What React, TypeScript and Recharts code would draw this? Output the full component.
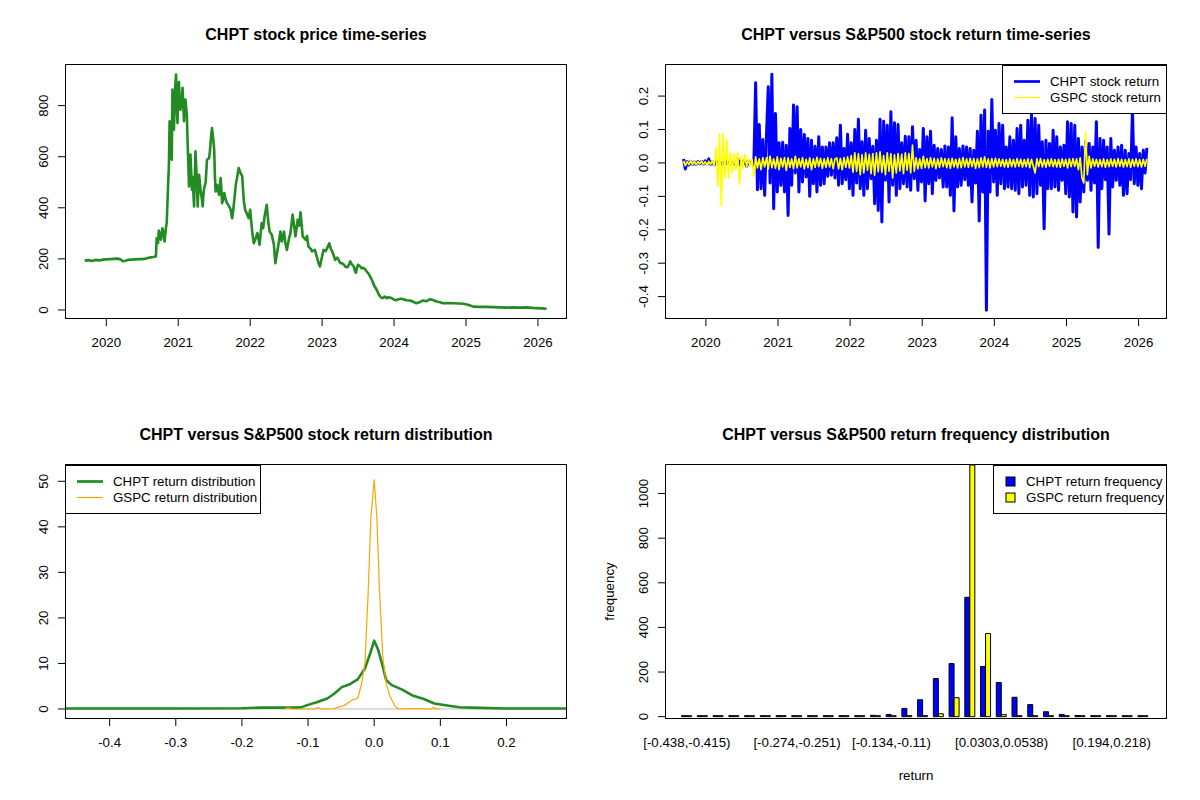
import React from "react";
import { LineChart, Line, XAxis, YAxis, BarChart, Bar, ReferenceLine, Legend } from "recharts";

const FONT = '"Liberation Sans", Arial, Helvetica, sans-serif';
const AXIS_FONT = 13.3;
const TITLE_FONT = 16;

// ---------- Panel 1: CHPT price ----------
const PRICE_T = [
  2019.70, 2019.75, 2019.80, 2019.85, 2019.90, 2019.95, 2020.00, 2020.05, 2020.10, 2020.15,
  2020.20, 2020.23, 2020.27, 2020.30, 2020.35, 2020.40, 2020.45, 2020.50, 2020.55, 2020.60,
  2020.65, 2020.69, 2020.70, 2020.72, 2020.73, 2020.75, 2020.76, 2020.78, 2020.80, 2020.81,
  2020.83, 2020.84, 2020.86, 2020.87, 2020.88, 2020.90, 2020.91, 2020.92, 2020.93, 2020.94,
  2020.96, 2020.97, 2020.98, 2020.99, 2021.00, 2021.01, 2021.02, 2021.03, 2021.05, 2021.06,
  2021.08, 2021.09, 2021.10, 2021.12, 2021.13, 2021.15, 2021.16, 2021.17, 2021.19, 2021.20,
  2021.22, 2021.23, 2021.24, 2021.26, 2021.27, 2021.28, 2021.29, 2021.31, 2021.33, 2021.34,
  2021.35, 2021.36, 2021.38, 2021.39, 2021.40, 2021.43, 2021.44, 2021.45, 2021.46, 2021.47,
  2021.49, 2021.50, 2021.51, 2021.52, 2021.54, 2021.55, 2021.57, 2021.58, 2021.59, 2021.60,
  2021.61, 2021.63, 2021.64, 2021.66, 2021.68, 2021.70, 2021.73, 2021.74, 2021.75, 2021.77,
  2021.80, 2021.82, 2021.84, 2021.86, 2021.89, 2021.91, 2021.93, 2021.95, 2021.98, 2022.00,
  2022.03, 2022.05, 2022.07, 2022.10, 2022.13, 2022.16, 2022.18, 2022.20, 2022.23, 2022.25,
  2022.27, 2022.30, 2022.33, 2022.35, 2022.37, 2022.40, 2022.42, 2022.44, 2022.47, 2022.49,
  2022.51, 2022.54, 2022.56, 2022.59, 2022.61, 2022.63, 2022.66, 2022.68, 2022.70, 2022.72,
  2022.73, 2022.77, 2022.79, 2022.81, 2022.84, 2022.86, 2022.90, 2022.93, 2022.95, 2022.97,
  2023.00, 2023.02, 2023.05, 2023.07, 2023.10, 2023.12, 2023.14, 2023.16, 2023.18, 2023.21,
  2023.23, 2023.25, 2023.27, 2023.30, 2023.32, 2023.35, 2023.37, 2023.39, 2023.41, 2023.44,
  2023.46, 2023.47, 2023.49, 2023.50, 2023.53, 2023.55, 2023.57, 2023.60, 2023.62, 2023.64,
  2023.67, 2023.69, 2023.71, 2023.73, 2023.76, 2023.78, 2023.80, 2023.83, 2023.85, 2023.87,
  2023.90, 2023.92, 2023.95, 2023.97, 2024.00, 2024.03, 2024.06, 2024.10, 2024.13, 2024.17,
  2024.22, 2024.27, 2024.31, 2024.35, 2024.40, 2024.45, 2024.50, 2024.55, 2024.59, 2024.64,
  2024.68, 2024.75, 2024.82, 2024.90, 2024.96, 2025.03, 2025.10, 2025.18, 2025.28, 2025.38,
  2025.47, 2025.56, 2025.65, 2025.75, 2025.84, 2025.92, 2025.98, 2026.05, 2026.12,
];
const PRICE = [
  193, 195, 192, 196, 194, 197, 198, 199, 200, 201,
  198, 191, 193, 196, 197, 198, 199, 199, 201, 205,
  207, 209, 281, 262, 311, 285, 275, 320, 290, 268,
  325, 340, 497, 560, 739, 610, 588, 863, 760, 706,
  880, 922, 800, 732, 860, 892, 820, 784, 824, 870,
  739, 800, 824, 760, 660, 484, 560, 608, 471, 520,
  405, 520, 621, 500, 405, 470, 529, 471, 430, 405,
  450, 477, 497, 540, 588, 595, 620, 654, 690, 712,
  660, 627, 520, 464, 490, 470, 451, 490, 516, 470,
  418, 440, 458, 431, 418, 410, 392, 370, 359, 405,
  490, 520, 556, 540, 523, 431, 392, 380, 359, 392,
  301, 261, 275, 301, 255, 340, 320, 366, 412, 350,
  307, 294, 255, 183, 216, 268, 307, 268, 307, 260,
  235, 280, 301, 373, 330, 288, 353, 330, 382, 320,
  288, 275, 290, 248, 240, 229, 235, 205, 183, 170,
  210, 235, 230, 242, 261, 240, 229, 215, 196, 205,
  196, 185, 183, 178, 170, 167, 175, 190, 180, 170,
  150, 146, 170, 177, 170, 163, 165, 159, 150, 144,
  130, 118, 105, 92, 78, 65, 55, 46, 48, 52,
  46, 50, 48, 46, 40, 38, 42, 44, 42, 38,
  37, 32, 26, 30, 37, 34, 42, 38, 33, 30,
  26, 27, 26, 25, 24, 20, 13, 12, 12, 11,
  10, 9, 10, 9, 10, 8, 7, 6, 5,
];

// ---------- Panel 2: returns (sampled every RET_STEP years from RET_START) ----------
const RET_START = 2019.69;
const RET_STEP = 0.025;
const CHPT_RET = [
  0.012, -0.018, 0.004, -0.006, 0.005, -0.004, 0.003, -0.005, 0.004, -0.003,
  0.005, -0.004, 0.006, -0.003, 0.012, -0.004, 0.003, -0.006, 0.004, -0.003,
  0.005, -0.004, 0.003, -0.005, 0.004, -0.003, 0.006, -0.004, 0.003, -0.006,
  0.012, -0.005, 0.006, -0.004, 0.008, -0.01, 0.005, -0.003, 0.004, -0.007,
  0.24, -0.08, 0.115, -0.077, 0.07, -0.097, 0.08, 0.228, -0.06, 0.265,
  -0.137, 0.148, -0.087, 0.06, -0.067, 0.062, -0.087, 0.053, -0.157, 0.103,
  -0.067, 0.173, -0.03, 0.168, -0.087, 0.1, -0.057, 0.085, -0.042, 0.073,
  -0.1, 0.068, -0.062, 0.05, -0.087, 0.078, -0.067, 0.048, -0.062, 0.048,
  -0.04, 0.06, -0.037, 0.06, -0.045,
  0.075, -0.067, 0.113, -0.062, 0.043, -0.05, 0.086, -0.077, 0.06, -0.097,
  0.1, -0.06, 0.131, -0.077, 0.063, -0.097, 0.098, -0.077, 0.073, -0.047,
  0.05, -0.122, 0.068, -0.142, 0.131, -0.177, 0.125, -0.052, 0.113, -0.117,
  0.153, -0.067, 0.12, -0.097, 0.115, -0.077, 0.06, -0.062, 0.08, -0.072,
  0.078, -0.082, 0.108, -0.047, 0.068, -0.082, 0.04, -0.057, 0.103, -0.114,
  0.078, -0.062, 0.095, -0.092, 0.053, -0.052, 0.043, -0.045, 0.04, -0.072,
  0.051, -0.072, 0.048, -0.097, 0.135, -0.144, 0.078, -0.072, 0.043, -0.067,
  0.051, -0.05, 0.048, -0.067, 0.043, -0.117, 0.038, -0.06, 0.095, -0.174,
  0.143, -0.087, 0.158, -0.441, 0.095, -0.087, 0.19, -0.057, 0.098, -0.097,
  0.118, -0.062, 0.113, -0.077,
  0.048, -0.072, 0.078, -0.077, 0.068, -0.082, 0.103, -0.092, 0.113, -0.072,
  0.068, -0.067, 0.128, -0.097, 0.148, -0.102, 0.133, -0.092, 0.113, -0.067,
  0.063, -0.197, 0.068, -0.077, 0.058, -0.077, 0.098, -0.072, 0.078, -0.082,
  0.048, -0.052, 0.053, -0.092, 0.123, -0.102, 0.118, -0.147, 0.113, -0.162,
  0.073, -0.117, 0.048, -0.087, 0.063, -0.052, 0.058, -0.082, 0.048, -0.06,
  0.123, -0.253, 0.073, -0.077, 0.068, -0.05, 0.048, -0.213, 0.073, -0.072,
  0.038, -0.052, 0.048, -0.067, 0.053, -0.097, 0.038, -0.092, 0.028, -0.05,
  0.16, -0.062, 0.048, -0.067, 0.028, -0.077, 0.038, -0.03, 0.045,
];
const GSPC_RET = [
  0.006, -0.008, 0.004, -0.005, 0.007, -0.004, 0.005, -0.006, 0.004, -0.003,
  0.006, -0.005, 0.004, -0.006, 0.005, -0.004, 0.006, -0.008,
  0.045, -0.07, 0.088, -0.128, 0.088, -0.045, 0.068, -0.045, 0.03, -0.03,
  0.028, -0.02, 0.03, -0.062, 0.02, -0.015, 0.025, -0.012, 0.012, -0.01, 0.01, -0.04,
  0.018, -0.015, 0.012, -0.02, 0.016, -0.012, 0.015, -0.018, 0.02, -0.014,
  0.012, -0.016, 0.018, -0.02, 0.014, -0.012, 0.016, -0.022, 0.015, -0.013,
  0.012, -0.017, 0.02, -0.015, 0.013, -0.012, 0.016, -0.018, 0.011, -0.014,
  0.015, -0.02, 0.012, -0.013, 0.017, -0.011, 0.014, -0.016, 0.012, -0.013,
  0.015, -0.012, 0.013, -0.017, 0.012,
  0.015, -0.018, 0.014, -0.02, 0.016, -0.013, 0.018, -0.015,
  0.022, -0.028, 0.03, -0.025, 0.027, -0.035, 0.024, -0.03, 0.03, -0.022,
  0.026, -0.032, 0.028, -0.037, 0.03, -0.026, 0.033, -0.028, 0.022, -0.035,
  0.03, -0.025, 0.027, -0.045, 0.024, -0.03, 0.028, -0.024, 0.026, -0.032,
  0.03, -0.022, 0.028, -0.03, 0.053, -0.025,
  0.015, -0.018, 0.012, -0.016, 0.02, -0.014, 0.013, -0.015, 0.016, -0.012,
  0.014, -0.017, 0.012, -0.013, 0.015, -0.011, 0.013, -0.014, 0.012, -0.016,
  0.014, -0.012, 0.011, -0.015, 0.013, -0.014, 0.016, -0.012, 0.012, -0.013,
  0.014, -0.011, 0.013, -0.016, 0.012, -0.014, 0.015, -0.012, 0.018, -0.013,
  0.012, -0.015, 0.013, -0.012, 0.014, -0.011,
  0.012, -0.01, 0.011, -0.012, 0.01, -0.013, 0.012, -0.011, 0.01, -0.012,
  0.013, -0.01, 0.011, -0.012, 0.01, -0.011, 0.012, -0.014, 0.011, -0.01,
  -0.03, 0.012, -0.011, 0.013, -0.012, 0.01, -0.013, 0.011, -0.01, 0.012,
  -0.011, 0.01, -0.012, 0.011, -0.013, 0.012, -0.01, 0.011, -0.015, 0.012,
  -0.011, 0.013, -0.01, 0.012, -0.02, 0.015,
  -0.045, -0.06, 0.093, -0.035, 0.02, -0.015,
  0.012, -0.01, 0.011, -0.012, 0.01, -0.011, 0.012, -0.013, 0.01, -0.011,
  0.012, -0.01, 0.011, -0.012, 0.013, -0.01, 0.011, -0.012, 0.01, -0.011,
  0.012, -0.013, 0.011, -0.01, 0.012, -0.011, 0.01, -0.012, 0.011, -0.01, 0.012,
];

// ---------- Panel 3: densities ----------
const CHPT_DENS_X = [
  -0.47, -0.3, -0.2, -0.173, -0.14, -0.12, -0.111, -0.1, -0.087, -0.071,
  -0.06, -0.049, -0.036, -0.025, -0.014, -0.006, 0, 0.006, 0.013, 0.018,
  0.026, 0.043, 0.059, 0.075, 0.091, 0.113, 0.129, 0.145, 0.161, 0.2, 0.3,
];
const CHPT_DENS_Y = [
  0.1, 0.12, 0.15, 0.3, 0.3, 0.3, 0.35, 0.9, 1.5, 2.3,
  3.4, 4.8, 5.5, 6.5, 8.9, 12.2, 15.0, 13.0, 9.3, 6.4,
  5.3, 4.2, 2.9, 2.2, 1.2, 0.7, 0.37, 0.3, 0.25, 0.12, 0.1,
];
const GSPC_DENS_X = [
  -0.135, -0.13, -0.125, -0.09, -0.085, -0.08, -0.06, -0.055, -0.05, -0.044,
  -0.039, -0.033, -0.025, -0.019, -0.014, -0.009, -0.005, 0, 0.004, 0.008,
  0.013, 0.018, 0.024, 0.032, 0.037, 0.05, 0.07, 0.085, 0.09, 0.095, 0.1,
];
const GSPC_DENS_Y = [
  0, 0.3, 0, 0, 0.3, 0, 0.1, 0.4, 0.5, 0.9,
  1.4, 2.0, 2.3, 5.6, 10, 26, 42, 50.4, 42, 26,
  11.5, 5.6, 2.7, 0.5, 0, 0.1, 0.1, 0, 0.3, 0, 0,
];

// ---------- Panel 4: histogram ----------
const BINS = [
  "[-0.438,-0.415)", "[-0.415,-0.391)", "[-0.391,-0.368)", "[-0.368,-0.344)", "[-0.344,-0.321)",
  "[-0.321,-0.298)", "[-0.298,-0.274)", "[-0.274,-0.251)", "[-0.251,-0.227)", "[-0.227,-0.204)",
  "[-0.204,-0.18)", "[-0.18,-0.157)", "[-0.157,-0.134)", "[-0.134,-0.11)", "[-0.11,-0.0868)",
  "[-0.0868,-0.0634)", "[-0.0634,-0.0399)", "[-0.0399,-0.0165)", "[-0.0165,0.00688)", "[0.00688,0.0303)",
  "[0.0303,0.0538)", "[0.0538,0.0772)", "[0.0772,0.101)", "[0.101,0.124)", "[0.124,0.147)",
  "[0.147,0.171)", "[0.171,0.194)", "[0.194,0.218)", "[0.218,0.241)", "[0.241,0.265]",
];
const CHPT_FREQ = [1, 0, 0, 0, 0, 0, 0, 1, 0, 1, 1, 4, 6, 10, 37, 76, 171, 238, 535, 225, 153, 87, 54, 22, 10, 5, 3, 1, 2, 2];
const GSPC_FREQ = [0, 0, 0, 0, 0, 0, 0, 0, 0, 0, 0, 0, 0, 1, 1, 4, 13, 85, 1128, 373, 9, 4, 3, 0, 0, 0, 0, 0, 0, 0];
const SHOWN_BINS = ["[-0.438,-0.415)", "[-0.274,-0.251)", "[-0.134,-0.11)", "[0.0303,0.0538)", "[0.194,0.218)"];

// ---------- Tick values / labels ----------
const YEAR_TICKS = [2020, 2021, 2022, 2023, 2024, 2025, 2026];
const YEAR_LABELS = ["2020", "2021", "2022", "2023", "2024", "2025", "2026"];
const PRICE_TICKS = [0, 200, 400, 600, 800];
const PRICE_LABELS = ["0", "200", "400", "600", "800"];
const RET_TICKS = [-0.4, -0.3, -0.2, -0.1, 0, 0.1, 0.2];
const RET_LABELS = ["-0.4", "-0.3", "-0.2", "-0.1", "0.0", "0.1", "0.2"];
const DENS_X_TICKS = [-0.4, -0.3, -0.2, -0.1, 0, 0.1, 0.2];
const DENS_X_LABELS = ["-0.4", "-0.3", "-0.2", "-0.1", "0.0", "0.1", "0.2"];
const DENS_Y_TICKS = [0, 10, 20, 30, 40, 50];
const DENS_Y_LABELS = ["0", "10", "20", "30", "40", "50"];
const FREQ_TICKS = [0, 200, 400, 600, 800, 1000];
const FREQ_LABELS = ["0", "200", "400", "600", "800", "1000"];

// ---------- tables ----------
const priceData = PRICE_T.map((t, i) => ({ t, price: PRICE[i] }));
const retData = CHPT_RET.map((v, i) => ({ t: RET_START + i * RET_STEP, chpt: v, gspc: GSPC_RET[i] }));
const chptDens = CHPT_DENS_X.map((x, i) => ({ x, y: CHPT_DENS_Y[i] }));
const gspcDens = GSPC_DENS_X.map((x, i) => ({ x, y: GSPC_DENS_Y[i] }));
const histData = BINS.map((bin, i) => ({ bin, chpt: CHPT_FREQ[i], gspc: GSPC_FREQ[i] }));

const labelFor = (ticks: number[], labels: string[], v: number) => {
  const i = ticks.findIndex((t) => Math.abs(t - v) < 1e-9);
  return i >= 0 ? labels[i] : String(v);
};

const makeYTick = (ticks: number[], labels: string[]) => (props: any) => {
  const { x, y, payload } = props;
  return (
    <text x={x} y={y} transform={`rotate(-90 ${x} ${y})`} textAnchor="middle"
      fontSize={AXIS_FONT} fontFamily={FONT} fill="#000">
      {labelFor(ticks, labels, payload.value)}
    </text>
  );
};

const makeXTick = (ticks: number[], labels: string[]) => (props: any) => {
  const { x, y, payload } = props;
  return (
    <text x={x} y={y} dy="0.71em" textAnchor="middle" fontSize={AXIS_FONT} fontFamily={FONT} fill="#000">
      {labelFor(ticks, labels, payload.value)}
    </text>
  );
};

const binTick = (props: any) => {
  const { x, y, payload } = props;
  if (!SHOWN_BINS.includes(payload.value)) return <g />;
  return (
    <text x={x} y={y} dy="0.71em" textAnchor="middle" fontSize={AXIS_FONT} fontFamily={FONT} fill="#000">
      {payload.value}
    </text>
  );
};

const xCommon = { stroke: "#000", axisLine: false, tickSize: 8, tickMargin: 12, interval: 0 as const, height: 30 };
const yCommon = { stroke: "#000", axisLine: false, tickSize: 8, tickMargin: 10, interval: 0 as const, width: 40 };
const MARGIN = { top: 65, right: 34, bottom: 52, left: 26 };

type Item = { label: string; color: string; width?: number; square?: boolean };

const LegendBox = ({ w, items, textX }: { w: number; items: Item[]; textX: number }) => (
  <svg width={w + 2} height={50} style={{ display: "block" }}>
    <rect x={0.5} y={0.5} width={w} height={48} fill="#fff" stroke="#000" strokeWidth={1} />
    {items.map((it, i) => {
      const cy = 16.5 + i * 16;
      return (
        <g key={it.label}>
          {it.square ? (
            <rect x={13} y={cy - 4.5} width={9} height={9} fill={it.color} stroke="#000" strokeWidth={1} />
          ) : (
            <line x1={12} x2={38} y1={cy} y2={cy} stroke={it.color} strokeWidth={it.width || 1} />
          )}
          <text x={textX} y={cy + 4.6} fontSize={AXIS_FONT} fontFamily={FONT} fill="#000">{it.label}</text>
        </g>
      );
    })}
  </svg>
);

const TR_LEGEND: Item[] = [
  { label: "CHPT stock return", color: "#0000FF", width: 2.7 },
  { label: "GSPC stock return", color: "#FFFF00", width: 1.3 },
];
const BL_LEGEND: Item[] = [
  { label: "CHPT return distribution", color: "#228B22", width: 2.7 },
  { label: "GSPC return distribution", color: "#FFA500", width: 1.2 },
];
const BR_LEGEND: Item[] = [
  { label: "CHPT return frequency", color: "#0000FF", square: true },
  { label: "GSPC return frequency", color: "#FFFF00", square: true },
];

const TITLES = [
  { text: "CHPT stock price time-series", x: 316, y: 40 },
  { text: "CHPT versus S&P500 stock return time-series", x: 916, y: 40 },
  { text: "CHPT versus S&P500 stock return distribution", x: 316, y: 440 },
  { text: "CHPT versus S&P500 return frequency distribution", x: 916, y: 440 },
];
const BOXES = [
  { x: 65.5, y: 64.5 },
  { x: 665.5, y: 64.5 },
  { x: 65.5, y: 464.5 },
  { x: 665.5, y: 464.5 },
];

export default function App() {
  return (
    <div style={{ position: "absolute", left: 0, top: 0, width: 1200, height: 800, background: "#fff", fontFamily: FONT }}>
      {/* Panel 1 */}
      <div style={{ position: "absolute", left: 0, top: 0 }}>
        <LineChart width={600} height={400} data={priceData} margin={MARGIN}>
          <XAxis type="number" dataKey="t" domain={[2019.44, 2026.39]} ticks={YEAR_TICKS} allowDataOverflow
            tick={makeXTick(YEAR_TICKS, YEAR_LABELS)} {...xCommon} />
          <YAxis type="number" domain={[-31.5, 959]} ticks={PRICE_TICKS} allowDataOverflow
            tick={makeYTick(PRICE_TICKS, PRICE_LABELS)} {...yCommon} />
          <Line type="linear" dataKey="price" stroke="#228B22" strokeWidth={2.6} dot={false}
            strokeLinejoin="round" isAnimationActive={false} />
        </LineChart>
      </div>

      {/* Panel 2 */}
      <div style={{ position: "absolute", left: 600, top: 0 }}>
        <LineChart width={600} height={400} data={retData} margin={MARGIN}>
          <XAxis type="number" dataKey="t" domain={[2019.447, 2026.38]} ticks={YEAR_TICKS} allowDataOverflow
            tick={makeXTick(YEAR_TICKS, YEAR_LABELS)} {...xCommon} />
          <YAxis type="number" domain={[-0.464, 0.293]} ticks={RET_TICKS} allowDataOverflow
            tick={makeYTick(RET_TICKS, RET_LABELS)} {...yCommon} />
          <Line type="linear" dataKey="chpt" name="CHPT stock return" stroke="#0000FF" strokeWidth={3}
            dot={false} strokeLinejoin="round" isAnimationActive={false} />
          <Line type="linear" dataKey="gspc" name="GSPC stock return" stroke="#FFFF00" strokeWidth={1.7}
            dot={false} strokeLinejoin="round" isAnimationActive={false} />
          <Legend layout="vertical" align="center" verticalAlign="middle"
            wrapperStyle={{ left: 402, top: 65, width: 166, height: 50 }}
            content={() => <LegendBox w={164} items={TR_LEGEND} textX={48} />} />
        </LineChart>
      </div>

      {/* Panel 3 */}
      <div style={{ position: "absolute", left: 0, top: 400 }}>
        <LineChart width={600} height={400} margin={MARGIN}>
          <XAxis type="number" dataKey="x" domain={[-0.466, 0.29]} ticks={DENS_X_TICKS} allowDataOverflow
            tick={makeXTick(DENS_X_TICKS, DENS_X_LABELS)} {...xCommon} />
          <YAxis type="number" domain={[-1.98, 53.58]} ticks={DENS_Y_TICKS} allowDataOverflow
            tick={makeYTick(DENS_Y_TICKS, DENS_Y_LABELS)} {...yCommon} />
          <ReferenceLine y={0} stroke="#BEBEBE" strokeWidth={1} />
          <Line data={chptDens} type="linear" dataKey="y" name="CHPT return distribution" stroke="#228B22"
            strokeWidth={2.6} dot={false} strokeLinejoin="round" isAnimationActive={false} />
          <Line data={gspcDens} type="linear" dataKey="y" name="GSPC return distribution" stroke="#FFA500"
            strokeWidth={1.2} dot={false} strokeLinejoin="round" isAnimationActive={false} />
          <Legend layout="vertical" align="center" verticalAlign="middle"
            wrapperStyle={{ left: 65, top: 65, width: 197, height: 50 }}
            content={() => <LegendBox w={195} items={BL_LEGEND} textX={48} />} />
        </LineChart>
      </div>

      {/* Panel 4 */}
      <div style={{ position: "absolute", left: 600, top: 400 }}>
        <BarChart width={600} height={400} data={histData} margin={MARGIN} barCategoryGap="16.67%" barGap={0}>
          <XAxis type="category" dataKey="bin" padding={{ left: 13, right: 15 }} tick={binTick}
            {...xCommon} tickLine={false} />
          <YAxis type="number" domain={[-6, 1128]} ticks={FREQ_TICKS} allowDataOverflow
            tick={makeYTick(FREQ_TICKS, FREQ_LABELS)} {...yCommon} />
          <Bar dataKey="chpt" name="CHPT return frequency" fill="#0000FF" stroke="#000" strokeWidth={1}
            minPointSize={1} isAnimationActive={false} />
          <Bar dataKey="gspc" name="GSPC return frequency" fill="#FFFF00" stroke="#000" strokeWidth={1}
            minPointSize={1} isAnimationActive={false} />
          <Legend layout="vertical" align="center" verticalAlign="middle"
            wrapperStyle={{ left: 393, top: 65, width: 175, height: 50 }}
            content={() => <LegendBox w={173} items={BR_LEGEND} textX={33} />} />
        </BarChart>
      </div>

      {/* Frames, titles, axis titles */}
      <svg width={1200} height={800} style={{ position: "absolute", left: 0, top: 0, pointerEvents: "none" }}>
        {BOXES.map((b, i) => (
          <rect key={i} x={b.x} y={b.y} width={501} height={254} fill="none" stroke="#000" strokeWidth={1} />
        ))}
        {TITLES.map((t) => (
          <text key={t.text} x={t.x} y={t.y} textAnchor="middle" fontSize={TITLE_FONT} fontWeight="bold"
            fontFamily={FONT} fill="#000">{t.text}</text>
        ))}
        <text x={614} y={591.5} transform="rotate(-90 614 591.5)" textAnchor="middle" fontSize={AXIS_FONT}
          fontFamily={FONT} fill="#000">frequency</text>
        <text x={916} y={780} textAnchor="middle" fontSize={AXIS_FONT} fontFamily={FONT} fill="#000">return</text>
      </svg>
    </div>
  );
}
